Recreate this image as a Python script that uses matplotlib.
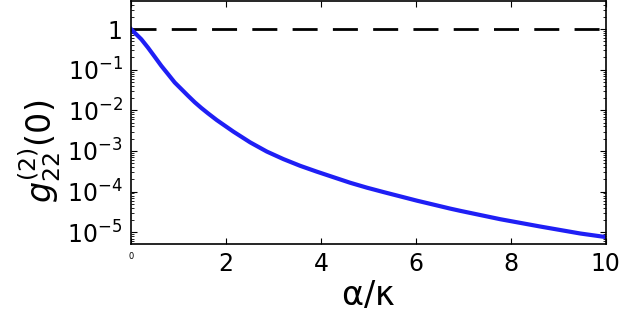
import numpy as np
import matplotlib
matplotlib.use("Agg")
import matplotlib.pyplot as plt
from matplotlib.ticker import FixedLocator, LogLocator, NullFormatter

# values (alpha/kappa, g22(0))
x_vals = [0.0, 0.042, 0.217, 0.358, 0.499, 0.639, 0.780, 0.921, 1.060,
          1.201, 1.342, 1.482, 1.623, 1.806, 2.156, 2.508, 2.860, 3.210,
          3.562, 3.914, 4.263, 4.615, 4.967, 5.317, 5.669, 6.021, 6.371,
          6.723, 6.934, 7.777, 8.620, 9.463, 10.0]
g22 = [1.0, 0.89, 0.56, 0.348, 0.208, 0.124, 0.0776, 0.0483, 0.0333,
       0.0228, 0.0158, 0.0114, 0.0084, 0.00575, 0.00299, 0.00163, 9.66e-4,
       6.3e-4, 4.31e-4, 3.09e-4, 2.26e-4, 1.65e-4, 1.25e-4, 9.73e-5,
       7.63e-5, 5.98e-5, 4.78e-5, 3.81e-5, 3.36e-5, 2.09e-5, 1.38e-5,
       9.3e-6, 7.6e-6]
coherent = 1.0

yticks = [1, 1e-1, 1e-2, 1e-3, 1e-4, 1e-5]
ytick_labels = ['1', r'$\mathregular{10^{-1}}$', r'$\mathregular{10^{-2}}$',
                r'$\mathregular{10^{-3}}$', r'$\mathregular{10^{-4}}$',
                r'$\mathregular{10^{-5}}$']
xticks = [0, 2, 4, 6, 8, 10]

fig = plt.figure(figsize=(6.22, 3.26), dpi=100)
ax = fig.add_axes([0.2106, 0.2515, 0.7634, 0.7455])

ax.axhline(coherent, color='black', lw=2, dashes=(9, 5.5))
ax.plot(x_vals, g22, color='#1f1ff5', lw=3)

ax.set_yscale('log')
ax.set_xlim(0, 10)
ax.set_ylim(10 ** -5.29, 10 ** 0.69)

ax.yaxis.set_major_locator(FixedLocator(yticks))
ax.set_yticklabels(ytick_labels, fontsize=17)
ax.yaxis.set_minor_locator(LogLocator(base=10, subs=np.arange(2, 10), numticks=20))
ax.yaxis.set_minor_formatter(NullFormatter())

ax.set_xticks(xticks)
ax.set_xticklabels([str(t) for t in xticks], fontsize=17)
ax.get_xticklabels()[0].set_fontsize(6)

ax.tick_params(which='both', direction='in', top=True, right=True)
ax.tick_params(which='major', length=4, width=0.8, pad=6)
ax.tick_params(which='minor', length=2, width=0.6)
for s in ax.spines.values():
    s.set_linewidth(1.2)

ax.set_xlabel(r'$\mathregular{\alpha/\kappa}$', fontsize=24, labelpad=2)
ax.set_ylabel(r'$g^{(2)}_{22}\mathregular{(0)}$', fontsize=24)
ax.yaxis.set_label_coords(-0.143, 0.383)

fig.savefig('out.png', dpi=100)
